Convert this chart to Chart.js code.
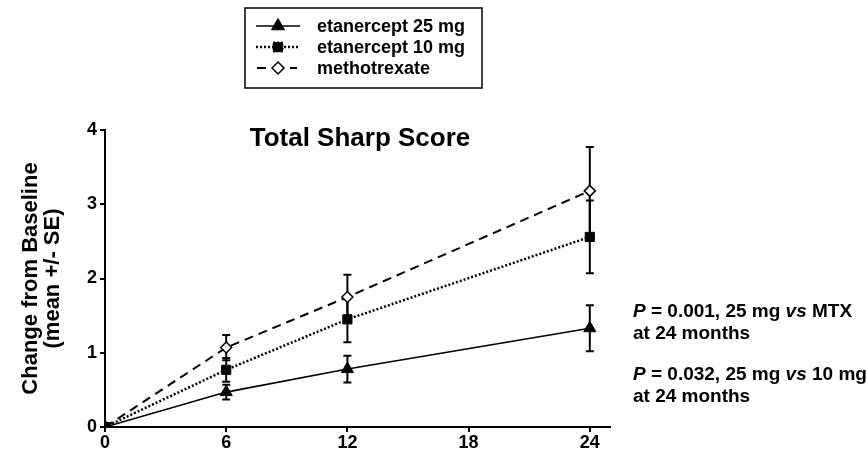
<!DOCTYPE html>
<html>
<head>
<meta charset="utf-8">
<script src="https://cdn.jsdelivr.net/npm/chart.js@4.4.0/dist/chart.umd.min.js"></script>
<style>
  html, body { margin: 0; padding: 0; background: #fff; }
  #wrap { width: 866px; height: 455px; }
</style>
</head>
<body>
<div id="wrap"><canvas id="sharpChart" width="866" height="455"></canvas></div>
<script>
// months and tick labels
var months = [0, 6, 12, 24];
var xTicks = [0, 6, 12, 18, 24];
var yTicks = [0, 1, 2, 3, 4];

// mean change from baseline
var eta25 = [0, 0.47, 0.78, 1.33];
var eta10 = [0, 0.77, 1.45, 2.56];
var mtx = [0, 1.07, 1.75, 3.18];

// standard errors
var eta25Se = [0, 0.10, 0.18, 0.31];
var eta10Se = [0, 0.16, 0.31, 0.49];
var mtxSe = [0, 0.17, 0.30, 0.59];

var seriesNames = ['etanercept 25 mg', 'etanercept 10 mg', 'methotrexate'];
var chartTitle = 'Total Sharp Score';
var yTitle = ['Change from Baseline', '(mean +/- SE)'];
var notes = [
    [['P', true], [' = 0.001, 25 mg ', false], ['vs', true], [' MTX', false]],
    [['at 24 months', false]],
    [['P', true], [' = 0.032, 25 mg ', false], ['vs', true], [' 10 mg', false]],
    [['at 24 months', false]]
];

var FONT = "'Liberation Sans', Arial, Helvetica, sans-serif";

function toPoints(ys) {
    return months.map(function (m, i) { return { x: m, y: ys[i] }; });
}

// error bars, drawn under the markers
var errorBars = {
    id: 'errorBars',
    beforeDatasetsDraw: function (chart) {
        var ctx = chart.ctx;
        var xs = chart.scales.x, ys = chart.scales.y;
        ctx.save();
        ctx.strokeStyle = '#000';
        ctx.lineWidth = 2;
        chart.data.datasets.forEach(function (ds) {
            ds.data.forEach(function (p, i) {
                var e = ds.se[i];
                if (!e) return;
                var px = xs.getPixelForValue(p.x);
                var top = ys.getPixelForValue(p.y + e);
                var bot = ys.getPixelForValue(p.y - e);
                ctx.beginPath();
                ctx.moveTo(px, top); ctx.lineTo(px, bot);
                ctx.moveTo(px - 4, top); ctx.lineTo(px + 4, top);
                ctx.moveTo(px - 4, bot); ctx.lineTo(px + 4, bot);
                ctx.stroke();
            });
        });
        ctx.restore();
    }
};

// boxed legend, title inside plot, p-value notes
var extras = {
    id: 'extras',
    afterDraw: function (chart) {
        var ctx = chart.ctx;
        ctx.save();
        ctx.fillStyle = '#000';

        // title
        ctx.font = 'bold 26px ' + FONT;
        ctx.textAlign = 'center';
        ctx.textBaseline = 'middle';
        ctx.fillText(chartTitle, 360, 139);

        // legend box
        ctx.strokeStyle = '#000';
        ctx.lineWidth = 1.5;
        ctx.strokeRect(245, 8, 237, 80);
        var rowY = [26, 47, 68];
        ctx.textAlign = 'left';
        chart.data.datasets.forEach(function (ds, i) {
            var y = rowY[i];
            ctx.save();
            ctx.strokeStyle = '#000';
            ctx.lineWidth = ds.borderWidth;
            ctx.setLineDash(ds.borderDash || []);
            ctx.beginPath();
            if (i === 2) {
                ctx.setLineDash([]);
                ctx.moveTo(257, y); ctx.lineTo(266, y);
                ctx.moveTo(290, y); ctx.lineTo(297, y);
            } else {
                ctx.moveTo(256, y); ctx.lineTo(300, y);
            }
            ctx.stroke();
            ctx.fillStyle = ds.pointBackgroundColor;
            ctx.strokeStyle = ds.pointBorderColor;
            ctx.lineWidth = ds.pointBorderWidth;
            Chart.helpers.drawPoint(ctx, {
                pointStyle: ds.pointStyle,
                radius: ds.pointRadius + 0.5,
                borderWidth: ds.pointBorderWidth
            }, 278, y);
            ctx.restore();
            ctx.fillStyle = '#000';
            ctx.font = 'bold 18px ' + FONT;
            ctx.fillText(ds.label, 317, y + 1);
        });

        // notes
        var noteY = [312, 334, 375, 397];
        notes.forEach(function (parts, k) {
            var x = 633;
            parts.forEach(function (part) {
                ctx.font = (part[1] ? 'italic bold ' : 'bold ') + '19px ' + FONT;
                ctx.fillText(part[0], x, noteY[k]);
                x += ctx.measureText(part[0]).width;
            });
        });
        ctx.restore();
    }
};

var ctx = document.getElementById('sharpChart').getContext('2d');
var sharpChart = new Chart(ctx, {
    type: 'line',
    data: {
        datasets: [{
            label: seriesNames[0],
            data: toPoints(eta25),
            se: eta25Se,
            borderColor: '#000',
            borderWidth: 1.6,
            pointStyle: 'triangle',
            pointRadius: 7,
            pointBackgroundColor: '#000',
            pointBorderColor: '#000',
            pointBorderWidth: 1
        }, {
            label: seriesNames[1],
            data: toPoints(eta10),
            se: eta10Se,
            borderColor: '#000',
            borderWidth: 2.5,
            borderDash: [2, 2],
            pointStyle: 'rect',
            pointRadius: 6.5,
            pointBackgroundColor: '#000',
            pointBorderColor: '#000',
            pointBorderWidth: 1
        }, {
            label: seriesNames[2],
            data: toPoints(mtx),
            se: mtxSe,
            borderColor: '#000',
            borderWidth: 2,
            borderDash: [9, 6],
            pointStyle: 'rectRot',
            pointRadius: 5.5,
            pointBackgroundColor: '#fff',
            pointBorderColor: '#000',
            pointBorderWidth: 1.5
        }]
    },
    options: {
        responsive: false,
        animation: false,
        layout: { padding: { top: 130, right: 256, left: 0, bottom: 0 } },
        plugins: {
            legend: { display: false },
            tooltip: { enabled: false }
        },
        scales: {
            x: {
                type: 'linear',
                min: 0,
                max: 25,
                afterBuildTicks: function (scale) {
                    scale.ticks = xTicks.map(function (v) { return { value: v }; });
                },
                afterFit: function (scale) { scale.height = 28; },
                border: { display: true, color: '#000', width: 2 },
                grid: { display: true, drawOnChartArea: false, drawTicks: true, tickLength: 5, color: '#000', lineWidth: 2 },
                ticks: {
                    color: '#000',
                    padding: 0,
                    maxRotation: 0,
                    font: { family: FONT, size: 18, weight: 'bold' }
                }
            },
            y: {
                min: 0,
                max: 4,
                afterBuildTicks: function (scale) {
                    scale.ticks = yTicks.map(function (v) { return { value: v }; });
                },
                afterFit: function (scale) { scale.width = 105; },
                border: { display: true, color: '#000', width: 2 },
                grid: { display: true, drawOnChartArea: false, drawTicks: true, tickLength: 5, color: '#000', lineWidth: 2 },
                ticks: {
                    color: '#000',
                    padding: 3,
                    font: { family: FONT, size: 18, weight: 'bold' }
                },
                title: {
                    display: true,
                    text: yTitle,
                    color: '#000',
                    padding: { top: 20, bottom: 0 },
                    font: { family: FONT, size: 22, weight: 'bold', lineHeight: 1.0 }
                }
            }
        }
    },
    plugins: [errorBars, extras]
});
</script>
</body>
</html>
